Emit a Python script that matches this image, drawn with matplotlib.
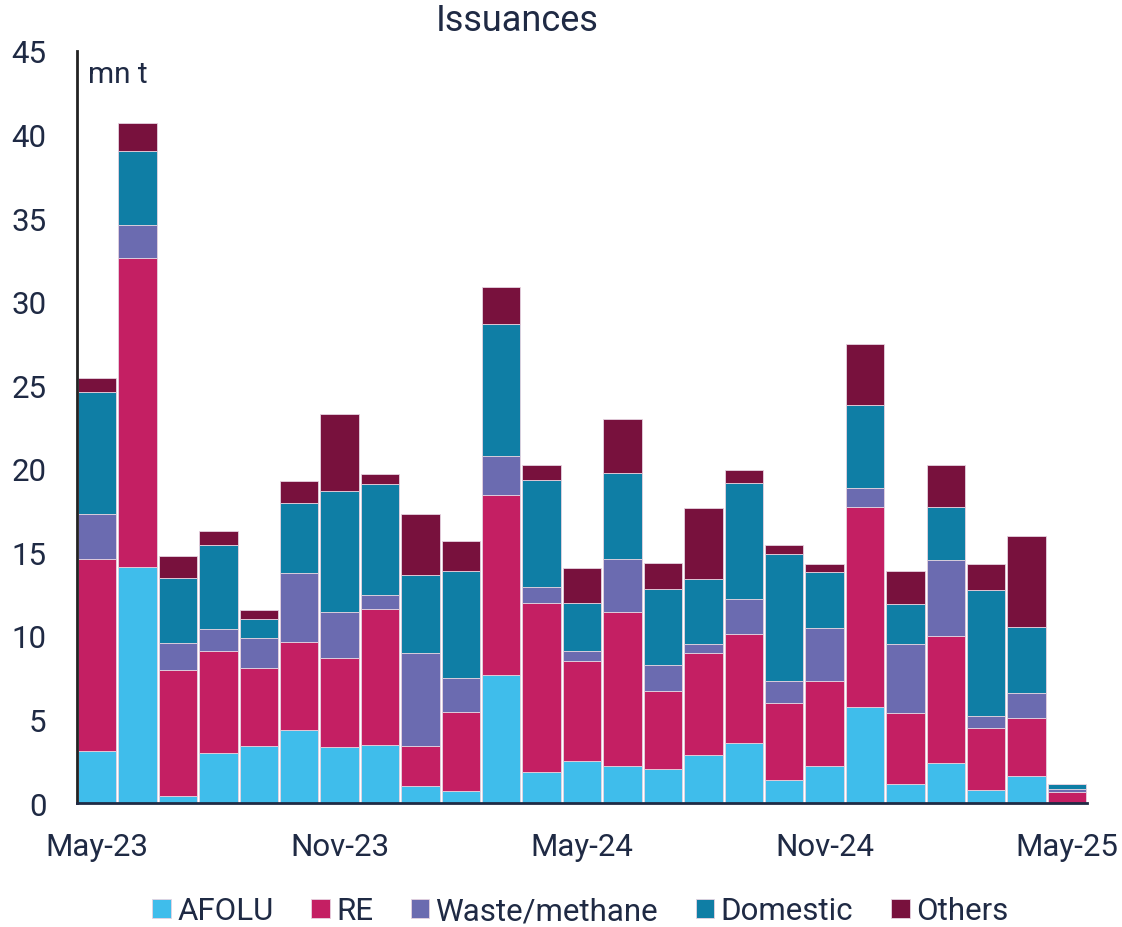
import numpy as np
import matplotlib
matplotlib.use("Agg")
import matplotlib.pyplot as plt

# Monthly issuances, mn t (May-23 .. May-25)
months = ["May-23", "Jun-23", "Jul-23", "Aug-23", "Sep-23", "Oct-23", "Nov-23", "Dec-23",
          "Jan-24", "Feb-24", "Mar-24", "Apr-24", "May-24", "Jun-24", "Jul-24", "Aug-24",
          "Sep-24", "Oct-24", "Nov-24", "Dec-24", "Jan-25", "Feb-25", "Mar-25", "Apr-25",
          "May-25"]
afolu = [3.1, 14.1, 0.42, 2.97, 3.41, 4.37, 3.33, 3.45, 1.02, 0.7, 7.68, 1.88, 2.52,
         2.22, 2.02, 2.89, 3.58, 1.37, 2.2, 5.72, 1.14, 2.41, 0.78, 1.61, 0.0]
re = [11.53, 18.51, 7.51, 6.1, 4.64, 5.24, 5.36, 8.17, 2.41, 4.74, 10.74, 10.06, 6.0,
      9.23, 4.71, 6.06, 6.56, 4.63, 5.1, 12.0, 4.22, 7.6, 3.69, 3.49, 0.64]
waste = [2.65, 1.96, 1.62, 1.34, 1.82, 4.13, 2.71, 0.8, 5.52, 2.04, 2.34, 1.01, 0.59,
         3.15, 1.51, 0.58, 2.06, 1.33, 3.18, 1.1, 4.15, 4.52, 0.71, 1.48, 0.2]
domestic = [7.34, 4.46, 3.89, 5.0, 1.13, 4.22, 7.3, 6.66, 4.67, 6.4, 7.92, 6.38, 2.87,
            5.15, 4.59, 3.9, 6.97, 7.55, 3.35, 5.02, 2.37, 3.21, 7.56, 3.93, 0.32]
others = [0.82, 1.68, 1.36, 0.84, 0.56, 1.28, 4.55, 0.58, 3.65, 1.79, 2.18, 0.87, 2.1,
          3.24, 1.55, 4.22, 0.77, 0.57, 0.48, 3.61, 1.98, 2.5, 1.55, 5.46, 0.0]

series = ["AFOLU", "RE", "Waste/methane", "Domestic", "Others"]
colors = ["#3FBDEB", "#C41F63", "#6B6BB0", "#0F7EA5", "#78113D"]
tick_labels = ["May-23", "Nov-23", "May-24", "Nov-24", "May-25"]

txt = "#1F2A44"
plt.rcParams["font.family"] = ["Roboto", "DejaVu Sans"]

fig = plt.figure(figsize=(11.22, 9.28), dpi=100)
ax = fig.add_axes([0.0686, 0.1336, 0.9004, 0.8104])

x = np.arange(len(months))
bottom = np.zeros(len(months))
for name, vals, c in zip(series, [afolu, re, waste, domestic, others], colors):
    vals = np.array(vals)
    ax.bar(x, vals, bottom=bottom, width=0.95, color=c, label=name,
           edgecolor="#e6d3e0", linewidth=0.6)
    bottom += vals

ax.set_xlim(-0.5, len(months) - 0.5)
ax.set_ylim(0, 45)
ax.set_yticks(np.arange(0, 46, 5))
ax.set_xticks([months.index(m) for m in tick_labels])
ax.set_xticklabels(tick_labels)
ax.tick_params(axis="both", length=0, labelsize=22.5, colors=txt)
ax.tick_params(axis="y", pad=22)
ax.tick_params(axis="x", pad=21)

for s in ["top", "right"]:
    ax.spines[s].set_visible(False)
ax.spines["left"].set_color("#222222")
ax.spines["left"].set_linewidth(2)
ax.spines["bottom"].set_color(txt)
ax.spines["bottom"].set_linewidth(2)

fig.text(517 / 1122, 1 - 21 / 928, "Issuances", ha="center", va="center",
         fontsize=26, color=txt)
fig.text(88 / 1122, 1 - 75 / 928, "mn t", ha="left", va="center",
         fontsize=21.5, color=txt)

fig.legend(loc="center", bbox_to_anchor=(0.517, 1 - 912 / 928), ncol=5,
           frameon=False, fontsize=22.5, handlelength=0.6, handleheight=0.6,
           handletextpad=0.2, columnspacing=1.2, labelcolor=txt)

fig.savefig("out.png", dpi=100)
